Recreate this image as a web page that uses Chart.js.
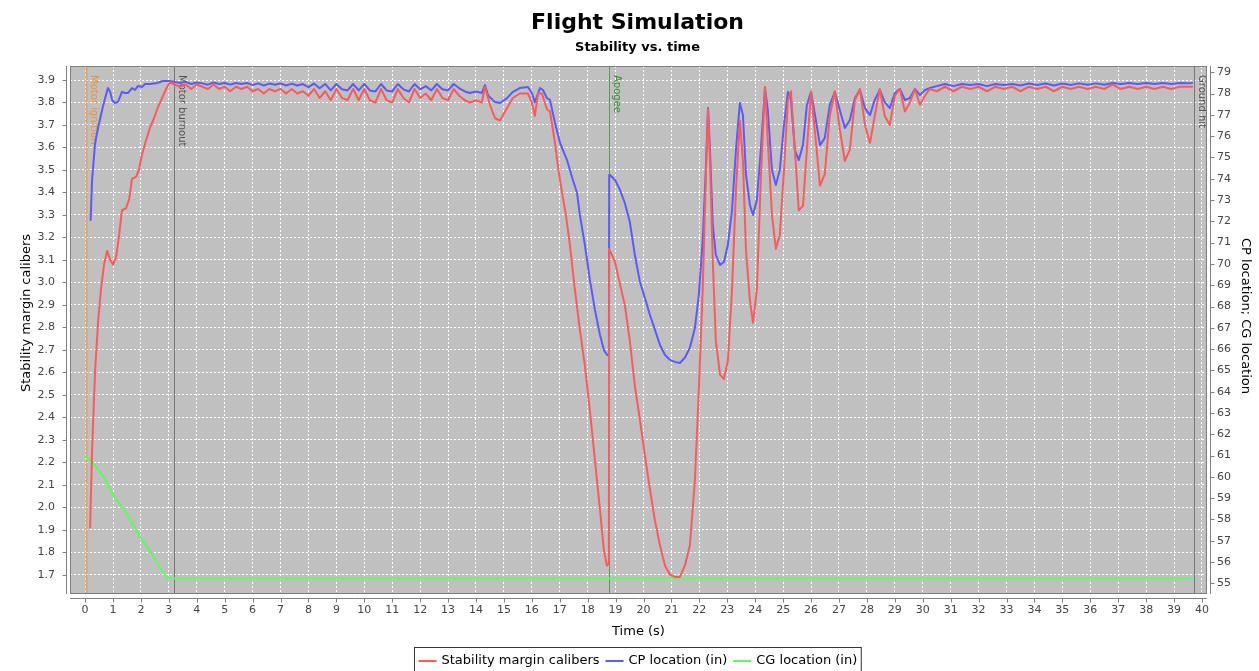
<!DOCTYPE html>
<html>
<head>
<meta charset="utf-8">
<title>Flight Simulation</title>
<script src="https://cdn.jsdelivr.net/npm/chart.js@4/dist/chart.umd.min.js"></script>
<style>
  html, body { margin: 0; padding: 0; background: #ffffff; overflow: hidden; }
  #wrap { width: 1259px; height: 671px; position: relative; }
  canvas { display: block; }
</style>
</head>
<body>
<div id="wrap"><canvas id="chart" width="1259" height="671"></canvas></div>
<script>
// ---- axis ticks ----
const timeTicks = [0,1,2,3,4,5,6,7,8,9,10,11,12,13,14,15,16,17,18,19,20,21,22,23,24,25,26,27,28,29,30,31,32,33,34,35,36,37,38,39,40];
const stabilityTicks = [1.7,1.8,1.9,2.0,2.1,2.2,2.3,2.4,2.5,2.6,2.7,2.8,2.9,3.0,3.1,3.2,3.3,3.4,3.5,3.6,3.7,3.8,3.9];
const locationTicks = [55,56,57,58,59,60,61,62,63,64,65,66,67,68,69,70,71,72,73,74,75,76,77,78,79];

// ---- series: [time (s), value] ----
const stabilityMargin = [
  [0.18,1.91],[0.25,2.25],[0.36,2.61],[0.47,2.83],[0.57,2.97],[0.68,3.08],[0.79,3.14],[0.90,3.10],[1.00,3.08],
  [1.11,3.11],[1.22,3.21],[1.32,3.32],[1.47,3.33],[1.58,3.37],[1.68,3.46],[1.83,3.47],[1.93,3.50],[2.04,3.57],
  [2.18,3.63],[2.33,3.69],[2.47,3.73],[2.61,3.78],[2.76,3.82],[2.90,3.86],[3.04,3.89],
  [3.2,3.88],[3.4,3.87],[3.6,3.88],[3.8,3.86],[4.0,3.88],[4.2,3.87],[4.4,3.86],[4.6,3.88],[4.8,3.86],[5.0,3.87],
  [5.2,3.85],[5.4,3.87],[5.6,3.86],[5.8,3.87],[6.0,3.85],[6.2,3.86],[6.4,3.84],[6.6,3.86],[6.8,3.85],[7.0,3.86],
  [7.2,3.84],[7.4,3.86],[7.6,3.84],[7.8,3.85],[8.0,3.83],[8.2,3.86],[8.4,3.82],[8.6,3.85],[8.8,3.81],[9.0,3.86],
  [9.2,3.82],[9.4,3.81],[9.6,3.86],[9.8,3.81],[10.0,3.86],[10.2,3.81],[10.4,3.80],[10.6,3.86],[10.8,3.81],[11.0,3.80],
  [11.2,3.86],[11.4,3.82],[11.6,3.80],[11.8,3.86],[12.0,3.82],[12.2,3.84],[12.4,3.81],[12.6,3.86],[12.8,3.82],[13.0,3.81],
  [13.2,3.86],[13.4,3.83],[13.6,3.81],[13.78,3.80],[14.0,3.81],[14.21,3.80],[14.32,3.87],[14.50,3.79],[14.68,3.73],
  [14.86,3.72],[15.04,3.76],[15.32,3.82],[15.57,3.84],[15.75,3.84],[15.86,3.84],[16.00,3.80],[16.11,3.74],[16.22,3.84],
  [16.36,3.84],[16.54,3.77],[16.65,3.76],[16.83,3.62],[16.94,3.51],[17.08,3.40],[17.22,3.30],[17.36,3.17],[17.54,2.97],
  [17.72,2.79],[17.90,2.63],[18.08,2.43],[18.26,2.21],[18.44,1.99],[18.58,1.81],[18.69,1.74],[18.76,1.75],
  [18.77,3.15],[18.80,3.14],[18.98,3.09],[19.16,2.99],[19.33,2.90],[19.51,2.74],[19.69,2.54],[19.87,2.39],[20.05,2.23],
  [20.23,2.08],[20.41,1.94],[20.59,1.83],[20.77,1.74],[20.95,1.70],[21.12,1.69],[21.30,1.69],[21.48,1.74],[21.66,1.83],
  [21.84,2.12],[21.98,2.52],[22.12,2.97],[22.23,3.46],[22.31,3.77],[22.38,3.54],[22.48,3.10],[22.59,2.74],[22.74,2.59],
  [22.88,2.57],[23.02,2.65],[23.17,2.97],[23.31,3.41],[23.45,3.72],[23.56,3.54],[23.67,3.14],[23.81,2.92],[23.92,2.82],
  [24.06,2.97],[24.20,3.46],[24.35,3.87],[24.45,3.63],[24.60,3.30],[24.74,3.15],[24.88,3.21],[25.03,3.50],[25.17,3.81],
  [25.28,3.85],[25.42,3.59],[25.56,3.32],[25.71,3.34],[25.85,3.59],[26.00,3.85],[26.17,3.63],[26.32,3.43],[26.49,3.48],
  [26.67,3.74],[26.85,3.85],[27.03,3.68],[27.21,3.54],[27.39,3.59],[27.57,3.81],[27.75,3.86],[27.93,3.70],[28.11,3.62],
  [28.28,3.74],[28.46,3.86],[28.64,3.74],[28.82,3.70],[29.00,3.83],[29.18,3.86],[29.36,3.76],[29.54,3.80],[29.72,3.86],
  [29.90,3.79],[30.08,3.83],[30.25,3.86],
  [30.5,3.85],[30.8,3.87],[31.1,3.85],[31.4,3.87],[31.7,3.86],[32.0,3.87],[32.3,3.85],[32.6,3.87],[32.9,3.86],[33.2,3.87],
  [33.5,3.85],[33.8,3.87],[34.1,3.86],[34.4,3.87],[34.7,3.85],[35.0,3.87],[35.3,3.86],[35.6,3.87],[35.9,3.86],[36.2,3.87],
  [36.5,3.86],[36.8,3.88],[37.1,3.86],[37.4,3.87],[37.7,3.86],[38.0,3.87],[38.3,3.86],[38.6,3.87],[38.9,3.86],[39.2,3.87],
  [39.5,3.87],[39.65,3.87]
];

const cpLocation = [
  [0.20,72.06],[0.25,73.94],[0.36,75.68],[0.47,76.43],[0.61,77.23],[0.72,77.79],[0.82,78.26],[0.90,78.08],[0.97,77.70],
  [1.07,77.56],[1.18,77.61],[1.32,78.08],[1.43,78.03],[1.54,78.03],[1.68,78.26],[1.79,78.17],[1.90,78.36],[2.04,78.31],
  [2.15,78.45],[2.33,78.45],[2.58,78.50],[2.79,78.59],[3.04,78.59],
  [3.22,78.54],[3.4,78.50],[3.6,78.55],[3.8,78.45],[4.0,78.52],[4.2,78.48],[4.4,78.42],[4.6,78.52],[4.8,78.45],[5.0,78.50],
  [5.2,78.42],[5.4,78.50],[5.6,78.45],[5.8,78.50],[6.0,78.40],[6.2,78.48],[6.4,78.38],[6.6,78.47],[6.8,78.42],[7.0,78.48],
  [7.2,78.38],[7.4,78.47],[7.6,78.38],[7.8,78.45],[8.0,78.30],[8.2,78.47],[8.4,78.25],[8.6,78.45],[8.8,78.15],[9.0,78.45],
  [9.2,78.20],[9.4,78.15],[9.6,78.45],[9.8,78.15],[10.0,78.45],[10.2,78.15],[10.4,78.10],[10.6,78.45],[10.8,78.15],[11.0,78.10],
  [11.2,78.45],[11.4,78.20],[11.6,78.10],[11.8,78.45],[12.0,78.20],[12.2,78.35],[12.4,78.15],[12.6,78.45],[12.8,78.20],[13.0,78.15],
  [13.2,78.45],[13.4,78.25],[13.6,78.10],[13.78,78.03],[14.0,78.10],[14.21,78.03],[14.32,78.40],[14.43,77.93],[14.68,77.60],
  [14.86,77.56],[15.11,77.79],[15.32,78.08],[15.57,78.26],[15.86,78.31],[16.00,78.03],[16.11,77.60],[16.29,78.26],[16.40,78.17],
  [16.54,77.79],[16.65,77.70],[16.83,76.62],[17.01,75.68],[17.26,74.88],[17.47,73.94],[17.62,73.33],[17.72,72.30],[17.90,70.89],
  [18.08,69.25],[18.26,67.84],[18.44,66.67],[18.58,65.96],[18.69,65.73],[18.76,65.70],
  [18.77,74.18],[18.80,74.18],[18.98,73.94],[19.16,73.47],[19.33,72.86],[19.51,71.97],[19.69,70.42],[19.87,69.16],[20.05,68.40],
  [20.23,67.60],[20.41,66.90],[20.59,66.19],[20.77,65.72],[20.95,65.49],[21.12,65.40],[21.30,65.35],[21.48,65.59],[21.66,66.06],
  [21.84,66.99],[21.98,68.54],[22.12,71.12],[22.23,74.41],[22.31,77.32],[22.38,75.35],[22.48,71.83],[22.59,70.42],[22.74,69.95],
  [22.88,70.09],[23.02,70.89],[23.17,72.53],[23.31,75.35],[23.45,77.56],[23.56,76.99],[23.67,74.18],[23.81,72.77],[23.92,72.30],
  [24.06,73.00],[24.20,75.35],[24.35,78.26],[24.45,77.23],[24.60,74.41],[24.74,73.71],[24.88,74.41],[25.03,76.52],[25.17,78.08],
  [25.28,77.70],[25.42,75.35],[25.56,74.88],[25.71,75.58],[25.85,77.46],[26.00,78.08],[26.17,76.76],[26.32,75.58],[26.49,75.91],
  [26.67,77.46],[26.85,78.08],[27.03,77.23],[27.21,76.38],[27.39,76.76],[27.57,77.79],[27.75,78.17],[27.93,77.32],[28.11,76.99],
  [28.28,77.70],[28.46,78.17],[28.64,77.60],[28.82,77.32],[29.00,78.03],[29.18,78.22],[29.36,77.70],[29.54,77.79],[29.72,78.22],
  [29.90,77.93],[30.08,78.17],[30.25,78.26],
  [30.5,78.35],[30.8,78.45],[31.1,78.35],[31.4,78.45],[31.7,78.40],[32.0,78.45],[32.3,78.35],[32.6,78.45],[32.9,78.40],[33.2,78.45],
  [33.5,78.38],[33.8,78.47],[34.1,78.40],[34.4,78.47],[34.7,78.38],[35.0,78.47],[35.3,78.40],[35.6,78.48],[35.9,78.42],[36.2,78.48],
  [36.5,78.42],[36.8,78.50],[37.1,78.45],[37.4,78.50],[37.7,78.45],[38.0,78.50],[38.3,78.45],[38.6,78.50],[38.9,78.45],[39.2,78.50],
  [39.5,78.48],[39.65,78.50]
];

const cgLocation = [
  [0.00,60.95],[0.30,60.64],[0.66,60.01],[1.01,59.15],[1.49,58.29],[1.97,57.19],[2.45,56.25],[2.86,55.39],[2.98,55.23],
  [39.65,55.23]
];

// ---- flight events ----
const eventNames = ['Motor ignition', 'Motor burnout', 'Apogee', 'Ground hit'];
const eventTimes = [0.03, 3.19, 18.77, 39.71];
const eventColors = ['rgba(232,150,60,0.6)', '#787878', '#5a9a5a', '#787878'];
const eventTextColors = ['#e8953a', '#555555', '#3a8a3a', '#555555'];

const FONT = "'DejaVu Sans', 'Noto Sans', sans-serif";
Chart.defaults.font.family = FONT;

const toPoints = arr => arr.map(p => ({ x: p[0], y: p[1] }));

const framePlugin = {
  id: 'frame',
  beforeDraw(chart) {
    const { ctx, chartArea: a } = chart;
    ctx.save();
    ctx.fillStyle = '#ffffff';
    ctx.fillRect(0, 0, chart.width, chart.height);
    ctx.fillStyle = '#c0c0c0';
    ctx.fillRect(a.left, a.top, a.right - a.left, a.bottom - a.top);
    ctx.restore();
  },
  beforeDatasetsDraw(chart) {
    const { ctx, chartArea: a } = chart;
    const xs = chart.scales.x;
    ctx.save();
    eventTimes.forEach((t, i) => {
      const px = Math.round(xs.getPixelForValue(t)) + 0.5;
      ctx.strokeStyle = eventColors[i];
      ctx.lineWidth = i === 0 ? 2 : 1;
      ctx.beginPath();
      ctx.moveTo(px, a.top);
      ctx.lineTo(px, a.bottom);
      ctx.stroke();
      ctx.save();
      ctx.translate(px + 2, a.top + 9);
      ctx.rotate(Math.PI / 2);
      ctx.fillStyle = eventTextColors[i];
      ctx.font = '10px ' + FONT;
      ctx.textAlign = 'left';
      ctx.textBaseline = 'bottom';
      ctx.fillText(eventNames[i], 0, 0);
      ctx.restore();
    });
    ctx.restore();
  },
  afterDatasetsDraw(chart) {
    const { ctx, chartArea: a } = chart;
    const xs = chart.scales.x, yl = chart.scales.y, yr = chart.scales.y2;
    ctx.save();
    ctx.strokeStyle = '#808080';
    ctx.lineWidth = 1;
    ctx.strokeRect(a.left + 0.5, a.top + 0.5, a.right - a.left - 1, a.bottom - a.top - 1);
    ctx.beginPath();
    // left axis
    const lx = a.left - 3.5;
    ctx.moveTo(lx, a.top); ctx.lineTo(lx, a.bottom);
    stabilityTicks.forEach(v => { const py = Math.round(yl.getPixelForValue(v)) + 0.5; ctx.moveTo(lx - 4, py); ctx.lineTo(lx, py); });
    // right axis
    const rx = a.right + 3.5;
    ctx.moveTo(rx, a.top); ctx.lineTo(rx, a.bottom);
    locationTicks.forEach(v => { const py = Math.round(yr.getPixelForValue(v)) + 0.5; ctx.moveTo(rx, py); ctx.lineTo(rx + 4, py); });
    // bottom axis
    const by = a.bottom + 4.5;
    ctx.moveTo(a.left, by); ctx.lineTo(a.right, by);
    timeTicks.forEach(v => { const px = Math.round(xs.getPixelForValue(v)) + 0.5; ctx.moveTo(px, by); ctx.lineTo(px, by + 4); });
    ctx.stroke();
    ctx.restore();
  },
  afterDraw(chart) {
    const { ctx, chartArea: a } = chart;
    const cx = 637.5;
    ctx.save();
    ctx.fillStyle = '#000000';
    ctx.textAlign = 'center';
    ctx.textBaseline = 'alphabetic';
    ctx.font = 'bold 22px ' + FONT;
    ctx.fillText('Flight Simulation', cx, 29);
    ctx.font = 'bold 13px ' + FONT;
    ctx.fillText('Stability vs. time', cx, 51);

    // axis titles
    ctx.font = '13px ' + FONT;
    ctx.fillText('Time (s)', (a.left + a.right) / 2, 635);
    ctx.save();
    ctx.translate(30, 313);
    ctx.rotate(-Math.PI / 2);
    ctx.fillText('Stability margin calibers', 0, 0);
    ctx.restore();
    ctx.save();
    ctx.translate(1242, 316);
    ctx.rotate(Math.PI / 2);
    ctx.fillText('CP location; CG location', 0, 0);
    ctx.restore();

    // legend
    ctx.font = '13px ' + FONT;
    ctx.textAlign = 'left';
    ctx.textBaseline = 'middle';
    const items = chart.data.datasets.map(d => ({ label: d.label, color: d.borderColor, w: ctx.measureText(d.label).width }));
    const lineLen = 18, gapLine = 5, gapItem = 6, pad = 4;
    let total = pad * 2;
    items.forEach((it, i) => { total += lineLen + gapLine + it.w + (i < items.length - 1 ? gapItem : 0); });
    const left = Math.round(cx - total / 2) + 0.5;
    const top = 647.5, ly = 661;
    ctx.strokeStyle = '#333333';
    ctx.lineWidth = 1;
    ctx.strokeRect(left, top, total, 30);
    let x = left + pad;
    items.forEach(it => {
      ctx.strokeStyle = it.color;
      ctx.lineWidth = 2;
      ctx.beginPath();
      ctx.moveTo(x, ly); ctx.lineTo(x + lineLen, ly);
      ctx.stroke();
      ctx.fillStyle = '#000000';
      ctx.fillText(it.label, x + lineLen + gapLine, ly);
      x += lineLen + gapLine + it.w + gapItem;
    });
    ctx.restore();
  }
};

const setTicks = list => scale => { scale.ticks = list.map(v => ({ value: v })); };

new Chart(document.getElementById('chart'), {
  type: 'line',
  data: {
    datasets: [
      { label: 'Stability margin calibers', data: toPoints(stabilityMargin), yAxisID: 'y', borderColor: '#ff5a5a', borderWidth: 2 },
      { label: 'CP location (in)', data: toPoints(cpLocation), yAxisID: 'y2', borderColor: '#5a5aff', borderWidth: 2 },
      { label: 'CG location (in)', data: toPoints(cgLocation), yAxisID: 'y2', borderColor: '#5aff5a', borderWidth: 2 }
    ]
  },
  options: {
    responsive: false,
    animation: false,
    devicePixelRatio: 1,
    parsing: true,
    elements: { point: { radius: 0, hoverRadius: 0 }, line: { tension: 0, fill: false, borderCapStyle: 'round', borderJoinStyle: 'round' } },
    layout: { padding: { top: 66, bottom: 37, left: 0, right: 0 } },
    plugins: { legend: { display: false }, title: { display: false }, tooltip: { enabled: false } },
    events: [],
    scales: {
      x: {
        type: 'linear', min: -0.54, max: 40.18,
        afterBuildTicks: setTicks(timeTicks),
        afterFit: s => { s.height = 40; },
        grid: { color: '#ffffff', lineWidth: 1, drawTicks: false },
        border: { display: false, dash: [2, 2] },
        ticks: { padding: 10, color: '#444444', font: { size: 11 }, maxRotation: 0, autoSkip: false, callback: v => String(v) }
      },
      y: {
        type: 'linear', position: 'left', min: 1.6142, max: 3.9623,
        afterBuildTicks: setTicks(stabilityTicks),
        afterFit: s => { s.width = 70; },
        grid: { color: '#ffffff', lineWidth: 1, drawTicks: false },
        border: { display: false, dash: [2, 2] },
        ticks: { padding: 15, color: '#444444', font: { size: 11 }, autoSkip: false, callback: v => Number(v).toFixed(1) }
      },
      y2: {
        type: 'linear', position: 'right', min: 54.497, max: 79.296,
        afterBuildTicks: setTicks(locationTicks),
        afterFit: s => { s.width = 52; },
        grid: { display: false, drawTicks: false },
        border: { display: false },
        ticks: { padding: 10, color: '#444444', font: { size: 11 }, autoSkip: false, callback: v => String(Math.round(v)) }
      }
    }
  },
  plugins: [framePlugin]
});
</script>
</body>
</html>
